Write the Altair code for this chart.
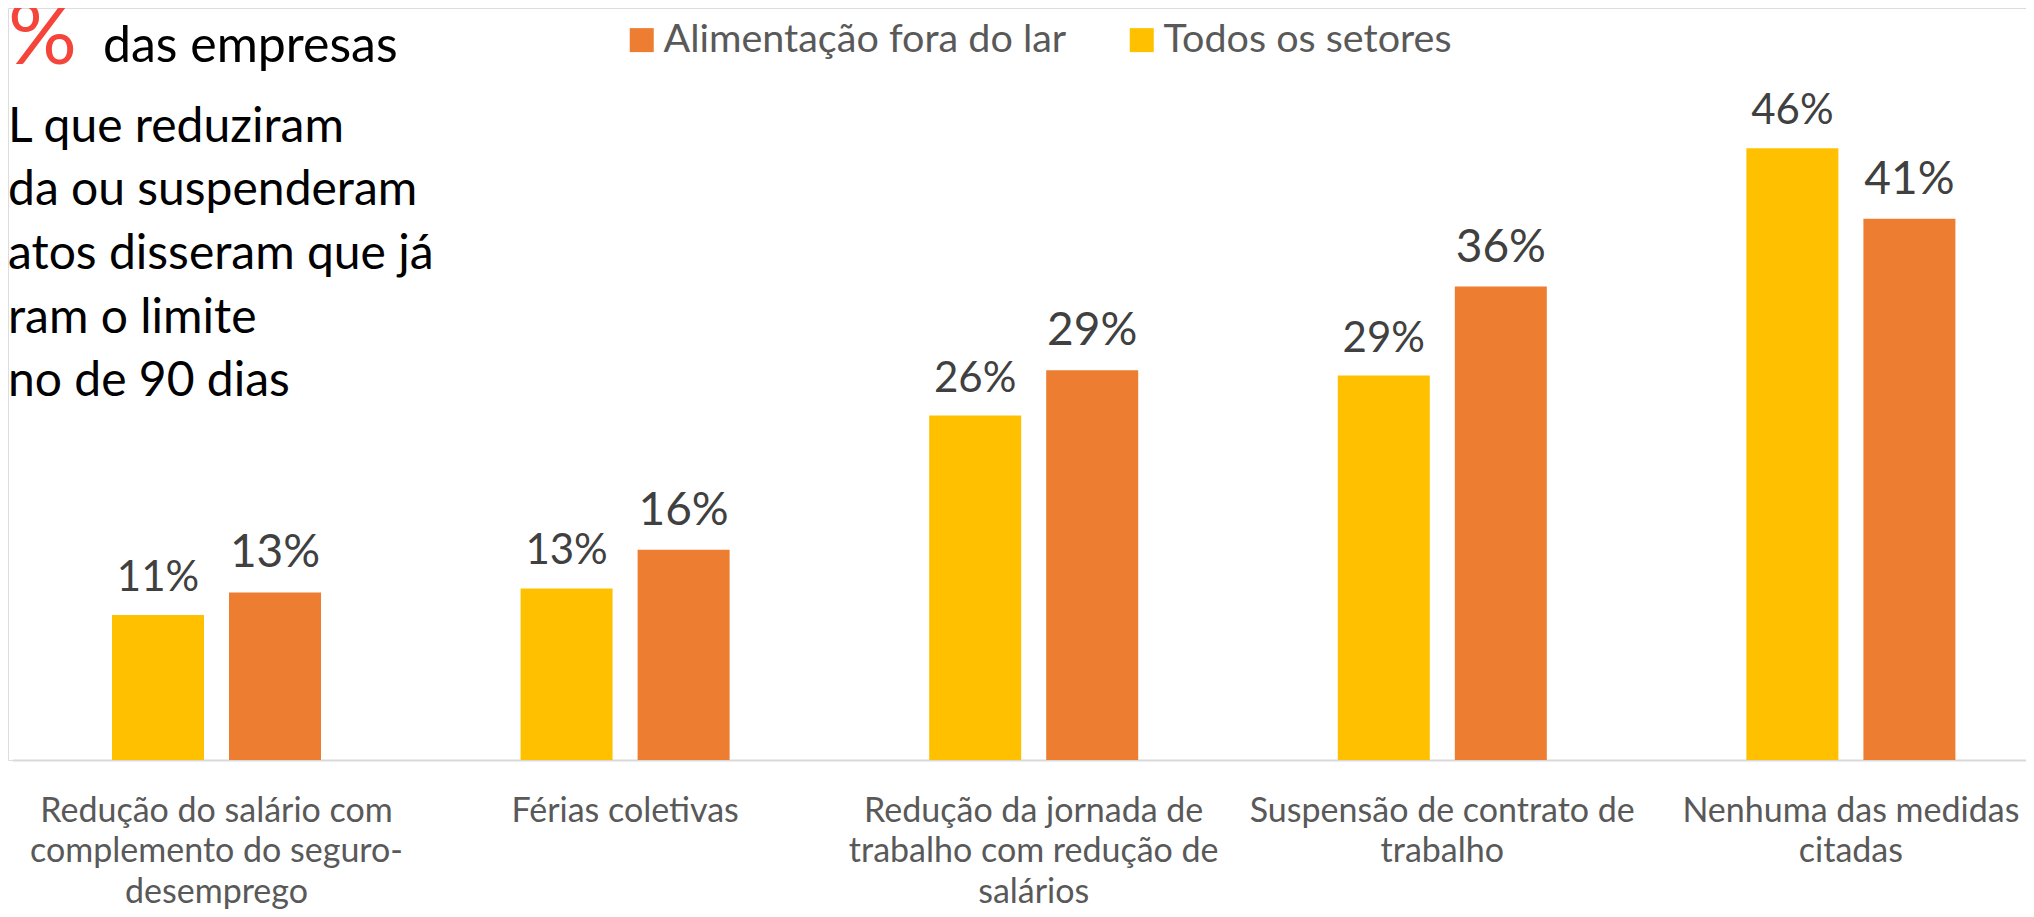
import altair as alt
import pandas as pd

categories = [
    "Redução do salário com\ncomplemento do seguro-\ndesemprego",
    "Férias coletivas",
    "Redução da jornada de\ntrabalho com redução de\nsalários",
    "Suspensão de contrato de\ntrabalho",
    "Nenhuma das medidas\ncitadas",
]
series_all = "Todos os setores"
series_afl = "Alimentação fora do lar"
values_all = [10.9, 12.9, 25.9, 28.9, 46.0]
values_afl = [12.6, 15.8, 29.3, 35.6, 40.7]

annotation_lines = [
    "L que reduziram",
    "da ou suspenderam",
    "atos disseram que já",
    "ram o limite",
    "no de 90 dias",
]

FONT = "Lato"
ORANGE = "#ED7D31"
YELLOW = "#FFC000"

rows = []
for c, va, vb in zip(categories, values_all, values_afl):
    rows.append({"categoria": c, "serie": series_all, "valor": va})
    rows.append({"categoria": c, "serie": series_afl, "valor": vb})
df = pd.DataFrame(rows)

x_enc = alt.X(
    "categoria:N",
    sort=categories,
    scale=alt.Scale(range=[4.2, 2047.2], paddingInner=0.4885, paddingOuter=0.24425),
    axis=alt.Axis(
        title=None,
        labelAngle=0,
        labelExpr="split(datum.label, '\\n')",
        labelFont=FONT,
        labelFontSize=34,
        labelColor="#595959",
        labelLineHeight=40.5,
        labelBaseline="alphabetic",
        labelPadding=61,
        ticks=False,
        tickSize=0,
        domainColor="#D9D9D9",
        domainWidth=2,
        labelLimit=0,
    ),
)
xoff = alt.XOffset(
    "serie:N",
    sort=[series_all, series_afl],
    scale=alt.Scale(paddingInner=0.214, paddingOuter=0),
)
y_enc = alt.Y(
    "valor:Q",
    scale=alt.Scale(domain=[0, 56.54], nice=False, zero=True),
    axis=None,
)

base = alt.Chart(df)

bars = base.mark_bar(size=92).encode(
    x=x_enc,
    xOffset=xoff,
    y=y_enc,
    color=alt.Color(
        "serie:N",
        scale=alt.Scale(domain=[series_afl, series_all], range=[ORANGE, YELLOW]),
        legend=alt.Legend(
            orient="none",
            legendX=614,
            legendY=12,
            direction="horizontal",
            title=None,
            symbolType="square",
            symbolSize=576,
            symbolStrokeWidth=0,
            labelFont=FONT,
            labelFontSize=39.5,
            labelColor="#595959",
            labelOffset=2,
            columnPadding=55,
            padding=0,
            labelLimit=0,
        ),
    ),
)

labels_all = base.transform_filter(alt.datum.serie == series_all).transform_calculate(
    rotulo="format(datum.valor, '.0f') + '%'"
).mark_text(font=FONT, fontSize=42, color="#404040", baseline="alphabetic", dy=-24).encode(
    x=x_enc, xOffset=xoff, y=y_enc, text="rotulo:N"
)
labels_afl = base.transform_filter(alt.datum.serie == series_afl).transform_calculate(
    rotulo="format(datum.valor, '.0f') + '%'"
).mark_text(font=FONT, fontSize=46, color="#404040", baseline="alphabetic", dy=-25).encode(
    x=x_enc, xOffset=xoff, y=y_enc, text="rotulo:N"
)

one = pd.DataFrame({"k": [0]})
pct = alt.Chart(one).mark_text(
    font=FONT, fontSize=86, color="#F5443A", align="left", baseline="alphabetic"
).encode(x=alt.value(0), y=alt.value(56), text=alt.value("%"))
empresas = alt.Chart(one).mark_text(
    font=FONT, fontSize=50, color="#000000", align="left", baseline="alphabetic"
).encode(x=alt.value(95), y=alt.value(54), text=alt.value("das empresas"))
bloco = alt.Chart(one).mark_text(
    font=FONT, fontSize=48, color="#000000", align="left", baseline="alphabetic",
    lineHeight=63.7,
).encode(x=alt.value(0), y=alt.value(133.7), text=alt.value(annotation_lines))

chart = alt.layer(bars, labels_all, labels_afl, pct, empresas, bloco).properties(
    width=2018,
    height=752,
    padding={"left": 0, "top": 0, "right": 0, "bottom": 149},
    autosize=alt.AutoSizeParams(type="none"),
).configure_view(strokeWidth=0, stroke="transparent").configure(background="white")

chart.save("out.html", embed_options={"renderer": "svg", "actions": False})
